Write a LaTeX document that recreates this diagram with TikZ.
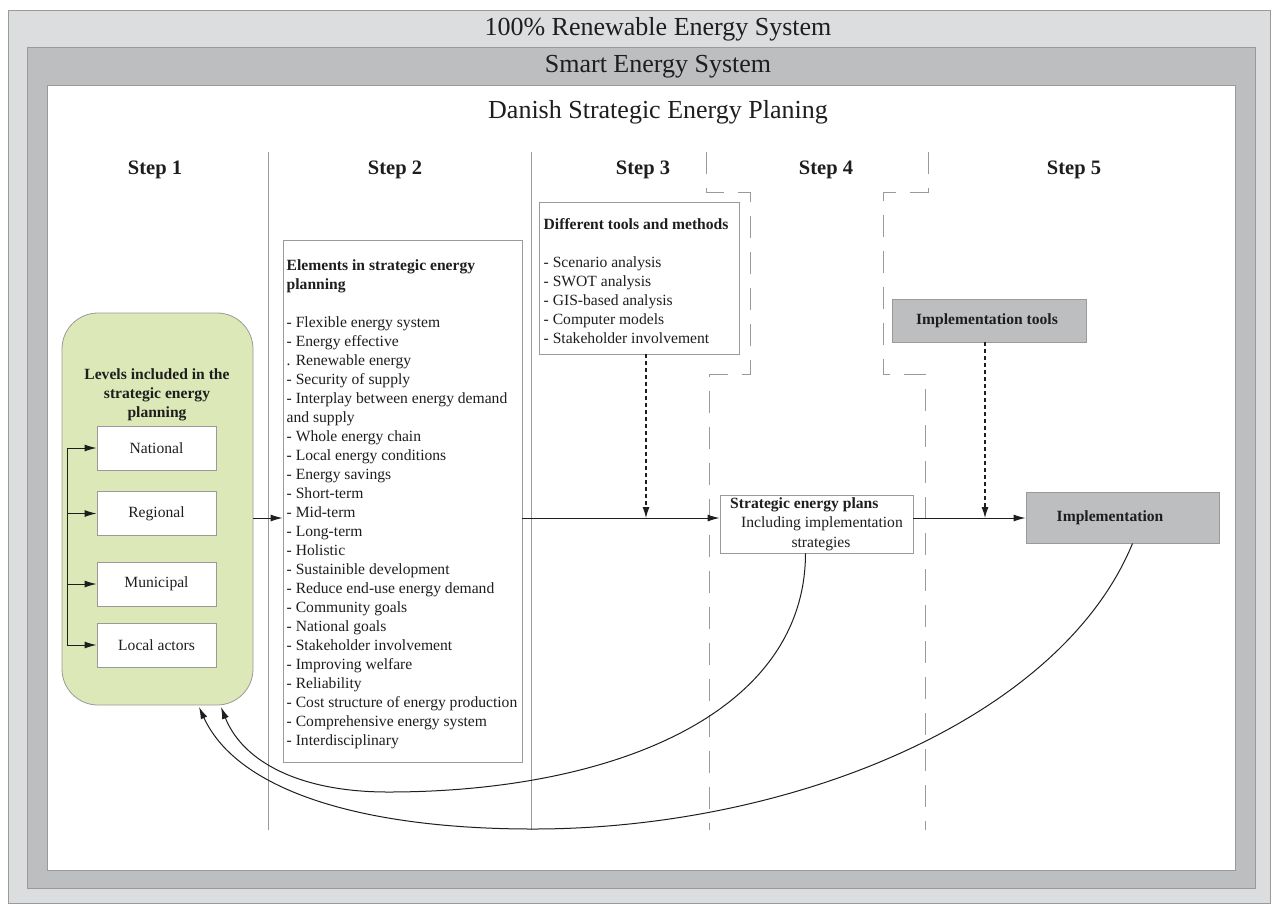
\documentclass[tikz,border=0pt]{standalone}
\usepackage{fontspec}
\setmainfont{Liberation Serif}
\usetikzlibrary{arrows.meta}
\definecolor{frameA}{HTML}{DCDDDF}
\definecolor{frameB}{HTML}{BCBEC0}
\definecolor{greenbox}{HTML}{DDE8B9}
\definecolor{edge}{HTML}{9A9A9A}
\definecolor{ink}{HTML}{1E1E1E}
\begin{document}
\begin{tikzpicture}[x=1pt,y=-1pt,
  arr/.style={-{Latex[length=12pt,width=7pt]}, line width=1pt, draw=ink},
  dotarr/.style={-{Latex[length=11pt,width=7pt]}, line width=1.2pt, draw=ink, dash pattern=on 4pt off 3pt},
  body/.style={font=\fontsize{15.6}{19}\selectfont, text=ink},
  boldbody/.style={font=\fontsize{15.6}{19}\selectfont\bfseries, text=ink},
  titletext/.style={font=\fontsize{26}{30}\selectfont, text=ink},
  steptext/.style={font=\fontsize{20.5}{24}\selectfont\bfseries, text=ink},
  whitebox/.style={draw=edge, fill=white, line width=0.9pt},
  graybox/.style={draw=edge, fill=frameB, line width=0.9pt},
  sepline/.style={draw=edge, line width=0.7pt},
  dashline/.style={draw=edge, line width=0.7pt, dash pattern=on 22pt off 14pt},
  curve/.style={-{Latex[length=12pt,width=7pt]}, line width=1pt, draw=ink}
]
\useasboundingbox (0,0) rectangle (1276,903);
% frames
\draw[fill=frameA, draw=edge, line width=0.8pt] (8,10) rectangle (1270,903);
\draw[fill=frameB, draw=edge, line width=0.8pt] (27,47) rectangle (1255,888);
\draw[fill=white, draw=edge, line width=0.8pt] (47,85) rectangle (1235,870);
\node[titletext] (t1) at (658,29) {100\% Renewable Energy System};
\node[titletext] (t2) at (658,67) {Smart Energy System};
\node[titletext] (t3) at (658,112) {Danish Strategic Energy Planing};
% step headings
\node[steptext] (s1) at (155,170) {Step 1};
\node[steptext] (s2) at (395,170) {Step 2};
\node[steptext] (s3) at (643,170) {Step 3};
\node[steptext] (s4) at (826,170) {Step 4};
\node[steptext] (s5) at (1074,170) {Step 5};
% separators
\draw[sepline] (268,152) -- (268,830);
\draw[sepline] (531,152) -- (531,830);
\draw[dashline] (706,152) -- (706,192) -- (750,192) -- (750,374) -- (709,374) -- (709,830);
\draw[dashline] (928,152) -- (928,192) -- (883,192) -- (883,374) -- (925,374) -- (925,830);
% step 1
\node[draw=edge, fill=greenbox, rounded corners=36pt, line width=0.8pt,
      minimum width=191pt, minimum height=392pt, inner sep=0pt] (lvl) at (157.5,509) {};
\node[boldbody, align=center, anchor=north, inner sep=0pt] (lvlt) at (157,368.6)
  {Levels included in the\\strategic energy\\planning};
\node[whitebox, body, minimum width=119pt, minimum height=44pt, inner sep=0pt] (nat) at (156.5,448) {National};
\node[whitebox, body, minimum width=119pt, minimum height=44pt, inner sep=0pt] (reg) at (156.5,513.5) {Regional};
\node[whitebox, body, minimum width=119pt, minimum height=44pt, inner sep=0pt] (mun) at (156.5,584) {Municipal};
\node[whitebox, body, minimum width=119pt, minimum height=44pt, inner sep=0pt] (loc) at (156.5,645) {Local actors};
\coordinate (brk) at (67,0);
\draw[line width=1pt, draw=ink] (nat.west -| brk) -- (loc.west -| brk);
\draw[arr] (nat.west -| brk) -- (nat.west);
\draw[arr] (reg.west -| brk) -- (reg.west);
\draw[arr] (mun.west -| brk) -- (mun.west);
\draw[arr] (loc.west -| brk) -- (loc.west);
% step 2
\node[whitebox, minimum width=239pt, minimum height=522pt, inner sep=0pt] (elem) at (402.5,501) {};
\node[body, align=left, anchor=north west, inner sep=0pt] (elemt) at (286.5,259.4)
  {\textbf{Elements in strategic energy}\\\textbf{planning}\\[19pt]
   - Flexible energy system\\
   - Energy effective\\
   . Renewable energy\\
   - Security of supply\\
   - Interplay between energy demand\\
   and supply\\
   - Whole energy chain\\
   - Local energy conditions\\
   - Energy savings\\
   - Short-term\\
   - Mid-term\\
   - Long-term\\
   - Holistic\\
   - Sustainible development\\
   - Reduce end-use energy demand\\
   - Community goals\\
   - National goals\\
   - Stakeholder involvement\\
   - Improving welfare\\
   - Reliability\\
   - Cost structure of energy production\\
   - Comprehensive energy system\\
   - Interdisciplinary};
% step 3
\node[whitebox, minimum width=200pt, minimum height=152pt, inner sep=0pt] (tools) at (639,278) {};
\node[body, align=left, anchor=north west, inner sep=0pt] (toolst) at (543.5,218.4)
  {\textbf{Different tools and methods}\\[19pt]
   - Scenario analysis\\
   - SWOT analysis\\
   - GIS-based analysis\\
   - Computer models\\
   - Stakeholder involvement};
% step 4
\node[whitebox, minimum width=193pt, minimum height=58pt, inner sep=0pt] (plan) at (816.5,524) {};
\node[boldbody, anchor=west, inner sep=0pt] (plant1) at (730,505) {Strategic energy plans};
\node[body, inner sep=0pt] (plant2) at (822,524) {Including implementation};
\node[body, inner sep=0pt] (plant3) at (821,544) {strategies};
% step 5
\node[graybox, minimum width=194pt, minimum height=43pt, inner sep=0pt] (itools) at (989,320.5) {};
\node[boldbody, inner sep=0pt] (itoolst) at (987,320.5) {Implementation tools};
\node[graybox, minimum width=193pt, minimum height=51pt, inner sep=0pt] (impl) at (1122.5,517.5) {};
\node[boldbody, inner sep=0pt] (implt) at (1110,517.5) {Implementation};
% flow
\coordinate (flow) at (0,518);
\coordinate (d3) at (646,0);
\coordinate (d5) at (985,0);
\draw[arr] (lvl.east |- flow) -- (elem.west |- flow);
\draw[arr] (elem.east |- flow) -- (plan.west |- flow);
\draw[arr] (plan.east |- flow) -- (impl.west |- flow);
\draw[dotarr] (tools.south -| d3) -- (d3 |- flow);
\draw[dotarr] (itools.south -| d5) -- (d5 |- flow);
% feedback curves
\coordinate (ret1) at (221,707);
\coordinate (ret2) at (199,707);
\draw[curve] ([xshift=-11pt]plan.south) .. controls (805,715) and (610,792) .. (388,792)
  .. controls (300,792) and (243,762) .. (ret1);
\draw[curve] ([xshift=10pt]impl.south) .. controls (1060,720) and (790,829) .. (533,829)
  .. controls (365,829) and (238,792) .. (ret2);
\end{tikzpicture}
\end{document}
